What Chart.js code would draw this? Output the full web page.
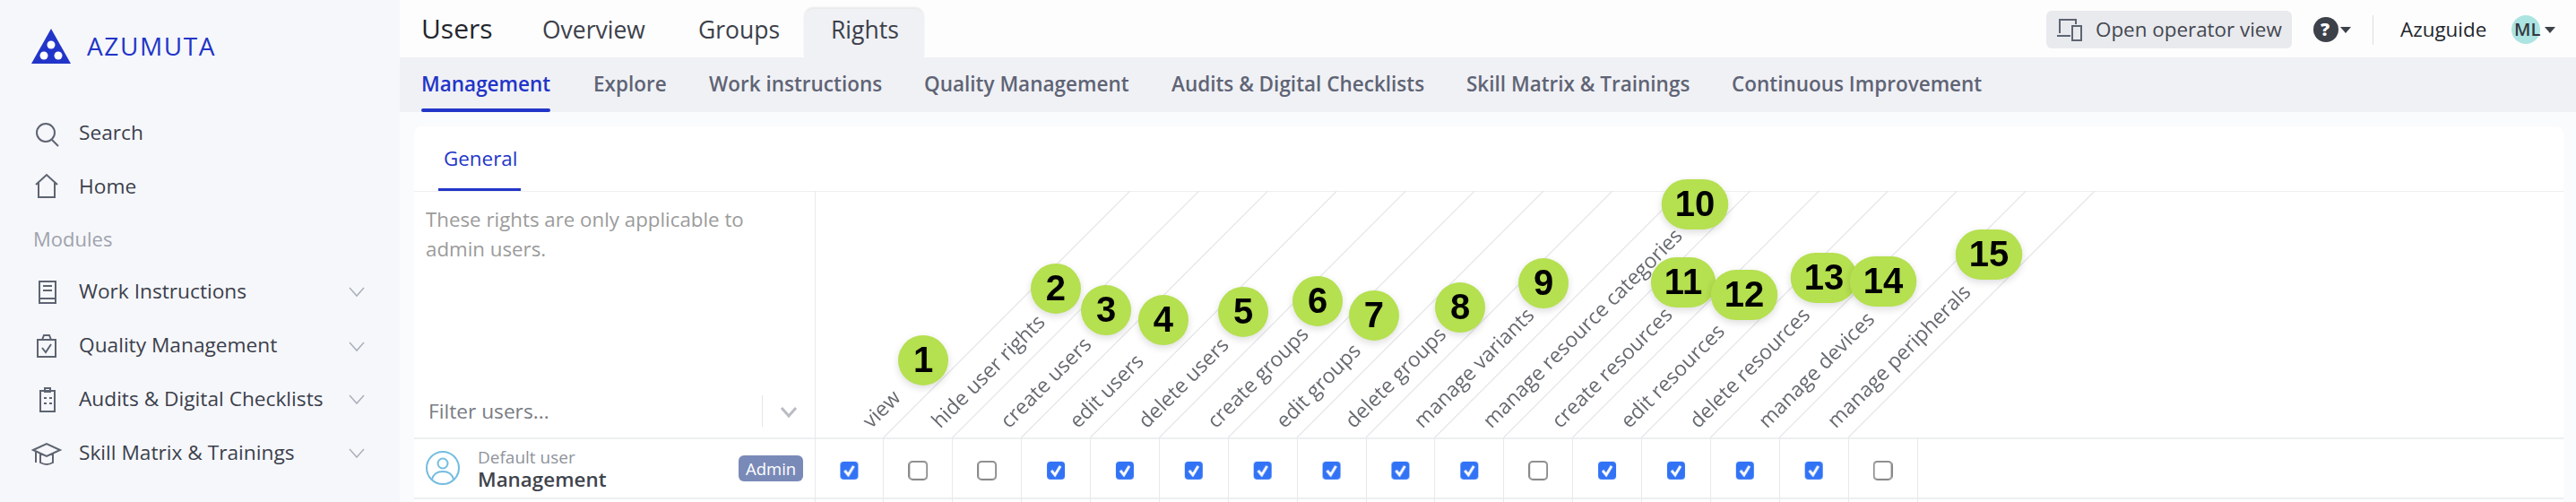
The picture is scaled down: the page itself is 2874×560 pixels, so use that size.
<!DOCTYPE html>
<html>
<head>
<meta charset="utf-8">
<title>Users - Rights</title>
<script src="https://cdn.jsdelivr.net/npm/chart.js@4"></script>
<style>
html, body { margin: 0; padding: 0; width: 2874px; height: 560px; overflow: hidden; background: #fafbfc; font-family: "Open Sans", sans-serif; }
.box { position: absolute; }
.t { position: absolute; white-space: nowrap; transform: translateY(-50%); line-height: 1; }
.side { font-size: 22.7px; color: #3b404c; left: 88px; }
.nav { font-size: 26.5px; color: #3c404a; top: 33px; }
.sub { font-size: 22.5px; color: #5f6475; top: 94px; font-weight: 600; }
svg { position: absolute; overflow: visible; fill: none; stroke: #5d6472; stroke-width: 2; }
#chart { position: absolute; left: 0; top: 0; }
</style>
</head>
<body>

<!-- sidebar -->
<div class="box" style="left:0;top:0;width:446px;height:560px;background:#f6f7fa"></div>
<svg style="left:35px;top:32px;stroke:none" width="44" height="39" viewBox="0 0 44 39">
  <path d="M22 0 L44 39 L0 39 Z" fill="#2235c8"/>
  <circle cx="22" cy="18" r="4.5" fill="#fff"/><circle cx="14" cy="30" r="4.5" fill="#fff"/><circle cx="30" cy="30" r="4.5" fill="#fff"/>
</svg>
<div class="t" style="left:97px;top:51px;font-size:28px;color:#2235c8;letter-spacing:1.6px">AZUMUTA</div>

<svg style="left:40px;top:137px" width="26" height="26"><circle cx="11" cy="11" r="10"/><path d="M18 19 L25 26"/></svg>
<div class="t side" style="top:148px">Search</div>
<svg style="left:38px;top:195px" width="28" height="26"><path d="M2 11 L14 0 L26 11 M5 9 V25 H23 V9"/></svg>
<div class="t side" style="top:208px">Home</div>
<div class="t" style="left:37px;top:266px;font-size:22px;color:#9ea3ad">Modules</div>

<svg style="left:41px;top:313px" width="22" height="26"><path d="M3 1 H21 V25 H3 Z M3 20 H21 M7 6 H17 M7 11 H17"/></svg>
<div class="t side" style="top:325px">Work Instructions</div>
<svg style="left:41px;top:373px" width="22" height="26"><path d="M1 6 H21 V25 H1 Z M6 6 L8 1 H14 L16 6 M6 15 L10 20 L16 11"/></svg>
<div class="t side" style="top:385px">Quality Management</div>
<svg style="left:44px;top:432px" width="18" height="28"><path d="M1 4 H17 V27 H1 Z M6 1 H12 V5 H6 Z M5 12 H8 M11 12 H14 M5 18 H8 M11 18 H14"/></svg>
<div class="t side" style="top:445px">Audits &amp; Digital Checklists</div>
<svg style="left:36px;top:494px" width="32" height="26"><path d="M1 8 L16 1 L31 8 L16 15 Z M9 12 V22 Q16 26 23 22 V12 M4 10 V22"/></svg>
<div class="t side" style="top:505px">Skill Matrix &amp; Trainings</div>
<svg style="left:390px;top:321px;stroke:#aab0bb;stroke-width:1.5" width="16" height="10"><path d="M0 0 L8 9 L16 0"/></svg>
<svg style="left:390px;top:382px;stroke:#aab0bb;stroke-width:1.5" width="16" height="10"><path d="M0 0 L8 9 L16 0"/></svg>
<svg style="left:390px;top:441px;stroke:#aab0bb;stroke-width:1.5" width="16" height="10"><path d="M0 0 L8 9 L16 0"/></svg>
<svg style="left:390px;top:501px;stroke:#aab0bb;stroke-width:1.5" width="16" height="10"><path d="M0 0 L8 9 L16 0"/></svg>
<div class="t" style="left:37px;top:567px;font-size:22px;color:#9ea3ad">Add-ons</div>

<!-- top bar -->
<div class="box" style="left:446px;top:0;width:2428px;height:64px;background:#fdfdfd"></div>
<div class="box" style="left:446px;top:64px;width:2428px;height:61px;background:#f0f1f5"></div>
<div class="box" style="left:897px;top:10px;width:134px;height:54px;background:#f0f1f5;border-radius:10px 10px 0 0;box-shadow:0 -2px 2px rgba(0,0,0,.08)"></div>
<div class="t" style="left:470px;top:32px;font-size:30px;color:#23262d">Users</div>
<div class="t nav" style="left:605px">Overview</div>
<div class="t nav" style="left:779px">Groups</div>
<div class="t nav" style="left:927px">Rights</div>

<div class="t sub" style="left:470px;color:#2235c8">Management</div>
<div class="box" style="left:470px;top:121px;width:144px;height:4px;background:#2235c8;border-radius:2px"></div>
<div class="t sub" style="left:662px">Explore</div>
<div class="t sub" style="left:791px">Work instructions</div>
<div class="t sub" style="left:1031px">Quality Management</div>
<div class="t sub" style="left:1307px">Audits &amp; Digital Checklists</div>
<div class="t sub" style="left:1636px">Skill Matrix &amp; Trainings</div>
<div class="t sub" style="left:1932px">Continuous Improvement</div>

<div class="box" style="left:2283px;top:12px;width:274px;height:42px;background:#e9eaee;border-radius:6px"></div>
<svg style="left:2295px;top:21px" width="28" height="24"><path d="M3 16 V1 H21 V6 M0 19 H15 M17 8 H27 V24 H17 Z"/></svg>
<div class="t" style="left:2338px;top:33px;font-size:22.4px;color:#43474f">Open operator view</div>
<div class="box" style="left:2581px;top:19px;width:28px;height:28px;border-radius:50%;background:#3d4149"></div>
<div class="t" style="left:2589px;top:33px;font-size:20px;font-weight:800;color:#fff">?</div>
<svg style="left:2611px;top:30px;stroke:none" width="12" height="7"><path d="M0 0 H12 L6 7 Z" fill="#3d4149"/></svg>
<div class="box" style="left:2647px;top:17px;width:1px;height:33px;background:#dcdde1"></div>
<div class="t" style="left:2678px;top:33px;font-size:22.4px;color:#23262d">Azuguide</div>
<div class="box" style="left:2802px;top:17px;width:32px;height:32px;border-radius:50%;background:#ace4e2"></div>
<div class="t" style="left:2805px;top:33px;font-size:20px;font-weight:600;color:#34383f">ML</div>
<svg style="left:2839px;top:30px;stroke:none" width="12" height="7"><path d="M0 0 H12 L6 7 Z" fill="#3d4149"/></svg>

<!-- card -->
<div class="box" style="left:462px;top:141px;width:2398px;height:430px;background:#fff;border-radius:8px"></div>
<div class="t" style="left:495px;top:177px;font-size:22.4px;color:#2235c8">General</div>
<div class="box" style="left:489px;top:210px;width:92px;height:3px;background:#2235c8"></div>
<div class="box" style="left:462px;top:213px;width:2398px;height:1px;background:#eeeff1"></div>
<div class="box" style="left:462px;top:488px;width:2398px;height:2px;background:#eeeff1"></div>
<div class="box" style="left:462px;top:555px;width:2398px;height:2px;background:#eeeff1"></div>
<div class="box" style="left:909px;top:213px;width:1px;height:347px;background:#e8e9ec"></div>
<div class="t" style="left:475px;top:245px;font-size:22.3px;color:#9b9b9b">These rights are only applicable to</div>
<div class="t" style="left:475px;top:278px;font-size:22.3px;color:#9b9b9b">admin users.</div>
<div class="t" style="left:478px;top:459px;font-size:22.7px;color:#787c84">Filter users...</div>
<div class="box" style="left:850px;top:441px;width:1px;height:35px;background:#e4e5e8"></div>
<svg style="left:871px;top:454px;stroke:#b9bcc3;stroke-width:3" width="18" height="11"><path d="M1 1 L9 10 L17 1"/></svg>
<svg style="left:475px;top:503px;stroke:#74bde0" width="38" height="38"><circle cx="19" cy="19" r="18"/><circle cx="19" cy="14" r="5.5"/><path d="M7 32 Q9 23 19 23 Q29 23 31 32"/></svg>
<div class="t" style="left:533px;top:510px;font-size:19px;color:#8f939b">Default user</div>
<div class="t" style="left:533px;top:535px;font-size:22.4px;font-weight:600;color:#40444d">Management</div>
<div class="box" style="left:824px;top:508px;width:72px;height:29px;background:#7a8ab8;border-radius:6px"></div>
<div class="t" style="left:832px;top:523px;font-size:18.5px;color:#fff">Admin</div>

<!-- 5px taller than the window: the layout keeps that much under the plot -->
<canvas id="chart" width="2874" height="565"></canvas>

<script>
const rights = ['view', 'hide user rights', 'create users', 'edit users', 'delete users', 'create groups', 'edit groups', 'delete groups', 'manage variants', 'manage resource categories', 'create resources', 'edit resources', 'delete resources', 'manage devices', 'manage peripherals'];
// one box per column, the last column has no label
const checked = [1, 0, 0, 1, 1, 1, 1, 1, 1, 1, 0, 1, 1, 1, 1, 0];

const badgeNumbers = ['1', '2', '3', '4', '5', '6', '7', '8', '9', '10', '11', '12', '13', '14', '15'];
// column position, and height above the header line counted in row heights
const badgeColumns = [1.574, 3.499, 4.228, 5.06, 6.218, 7.298, 8.117, 9.366, 10.576, 12.774, 12.605, 13.489, 14.647, 15.506, 17.041];
const badgeHeights = [1.284, 2.478, 2.119, 1.955, 2.09, 2.269, 2.03, 2.164, 2.567, 3.881, 2.582, 2.373, 2.657, 2.597, 3.045];

const columnCount = 16;
const checkRow = -0.55;
// header slants at 45 degrees: run in columns, rise in rows
const slantRun = 3.577;
const slantRise = 4.104;

const makeBox = (isChecked) => {
    const c = document.createElement('canvas');
    c.width = 22;
    c.height = 22;
    const g = c.getContext('2d');
    g.beginPath();
    g.roundRect(1, 1, 20, 20, 4);
    if (isChecked) {
        g.fillStyle = '#3273f6';
        g.fill();
        g.strokeStyle = '#fff';
        g.lineWidth = 3;
        g.beginPath();
        g.moveTo(6, 11);
        g.lineTo(10, 16);
        g.lineTo(16, 6);
        g.stroke();
    } else {
        g.fillStyle = '#fff';
        g.fill();
        g.strokeStyle = '#8a8a8a';
        g.lineWidth = 2;
        g.stroke();
    }
    return c;
};
const boxOn = makeBox(true);
const boxOff = makeBox(false);

const slantSets = rights.map((r, i) => ({
    type: 'scatter',
    showLine: true,
    data: [{x: i + 1, y: 0}, {x: i + 1 + slantRun, y: slantRise}],
    borderColor: '#e6e7ea',
    borderWidth: 1.2,
    pointRadius: 0,
    clip: false,
    order: 3
}));

// badges sit above the plot area so the points are placed by the scales and painted here
const badgePlugin = {
    id: 'badges',
    afterDatasetsDraw(chart) {
        const ctx = chart.ctx;
        const idx = chart.data.datasets.findIndex(d => d.label === 'badges');
        const points = chart.getDatasetMeta(idx).data;
        ctx.save();
        ctx.font = 'bold 40px "Liberation Sans"';
        ctx.textAlign = 'center';
        ctx.textBaseline = 'middle';
        points.forEach((p, i) => {
            const w = Math.max(56, ctx.measureText(badgeNumbers[i]).width + 30);
            ctx.save();
            ctx.shadowColor = 'rgba(0,0,0,0.14)';
            ctx.shadowBlur = 8;
            ctx.shadowOffsetY = 3;
            ctx.fillStyle = '#b5e04f';
            ctx.beginPath();
            ctx.roundRect(p.x - w / 2, p.y - 28, w, 56, 28);
            ctx.fill();
            ctx.restore();
            ctx.fillStyle = '#000';
            ctx.fillText(badgeNumbers[i], p.x, p.y + 2);
        });
        ctx.restore();
    }
};

new Chart(document.getElementById('chart'), {
    data: {
        datasets: [
            ...slantSets,
            {
                type: 'scatter',
                label: 'checks',
                data: checked.map((v, i) => ({x: i + 0.5, y: checkRow})),
                pointStyle: (ctx) => checked[ctx.dataIndex] ? boxOn : boxOff,
                order: 2
            },
            {
                type: 'scatter',
                label: 'badges',
                data: badgeColumns.map((x, i) => ({x: x, y: badgeHeights[i]})),
                pointRadius: 0,
                order: 1
            }
        ]
    },
    options: {
        responsive: false,
        animation: false,
        devicePixelRatio: 1,
        layout: {padding: {left: 909, right: 735, top: 213, bottom: 0}},
        plugins: {legend: {display: false}, tooltip: {enabled: false}},
        scales: {
            x: {
                type: 'linear',
                position: 'top',
                min: 0,
                max: columnCount,
                afterFit: (scale) => {
                    // rotated labels ask for extra room, the header row is a fixed height
                    scale.height = 275;
                    scale.paddingTop = 0;
                    scale.paddingBottom = 0;
                    scale.paddingLeft = 0;
                    scale.paddingRight = 0;
                },
                border: {display: false},
                grid: {color: '#e8e9ec', lineWidth: 1, drawTicks: false, tickLength: 0},
                ticks: {
                    stepSize: 1,
                    autoSkip: false,
                    minRotation: 45,
                    maxRotation: 45,
                    padding: 4,
                    labelOffset: 78,
                    color: '#666a70',
                    font: {family: '"Open Sans"', size: 23},
                    callback: (v) => rights[v] || ''
                }
            },
            y: {type: 'linear', display: false, min: -72 / 67, max: 0}
        }
    },
    plugins: [badgePlugin]
});
</script>
</body>
</html>
